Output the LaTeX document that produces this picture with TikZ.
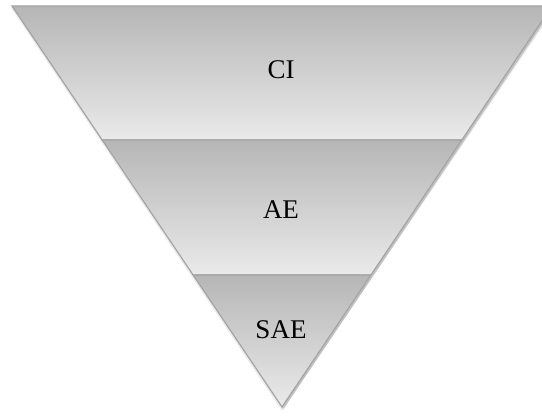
\documentclass[tikz,border=0pt]{standalone}
\usepackage{fontspec}
\setmainfont{Liberation Serif}
\definecolor{bandtop}{HTML}{B6B6B6}
\definecolor{bandbot}{HTML}{EAEAEA}
\definecolor{bandedge}{HTML}{A4A4A4}
\tikzset{
  band/.style={top color=bandtop, bottom color=bandbot, draw=bandedge, line width=1.2pt, line join=miter},
  shade/.style={fill=black, opacity=.18},
  label/.style={font=\fontsize{27}{31}\selectfont, text=black}
}
\begin{document}
\begin{tikzpicture}[x=1pt,y=1pt]

        \useasboundingbox (0,0) rectangle (542,417);
        \clip (0,0) rectangle (542,417);

        % shadow of the funnel
        \fill[shade] (13.5,409) -- (283.5,8) -- (553.5,409) -- cycle;
        \fill[shade, opacity=.08] (10.5,410) -- (282,6) -- (556,410) -- cycle;

        % the three bands, from the top down
        \path[band] (12,411) -- (552,411) -- (461.8,277) -- (102.2,277) -- cycle;
        \path[band] (102.2,277) -- (461.8,277) -- (370.9,142) -- (193.1,142) -- cycle;
        \path[band] (193.1,142) -- (370.9,142) -- (282,10) -- cycle;

        \begin{scope}[every node/.style={label}]
          \node (ci)  at (281,347) {CI};
          \node (ae)  at (281,207) {AE};
          \node (sae) at (281,87)  {SAE};
        \end{scope}

      \end{tikzpicture}
\end{document}
